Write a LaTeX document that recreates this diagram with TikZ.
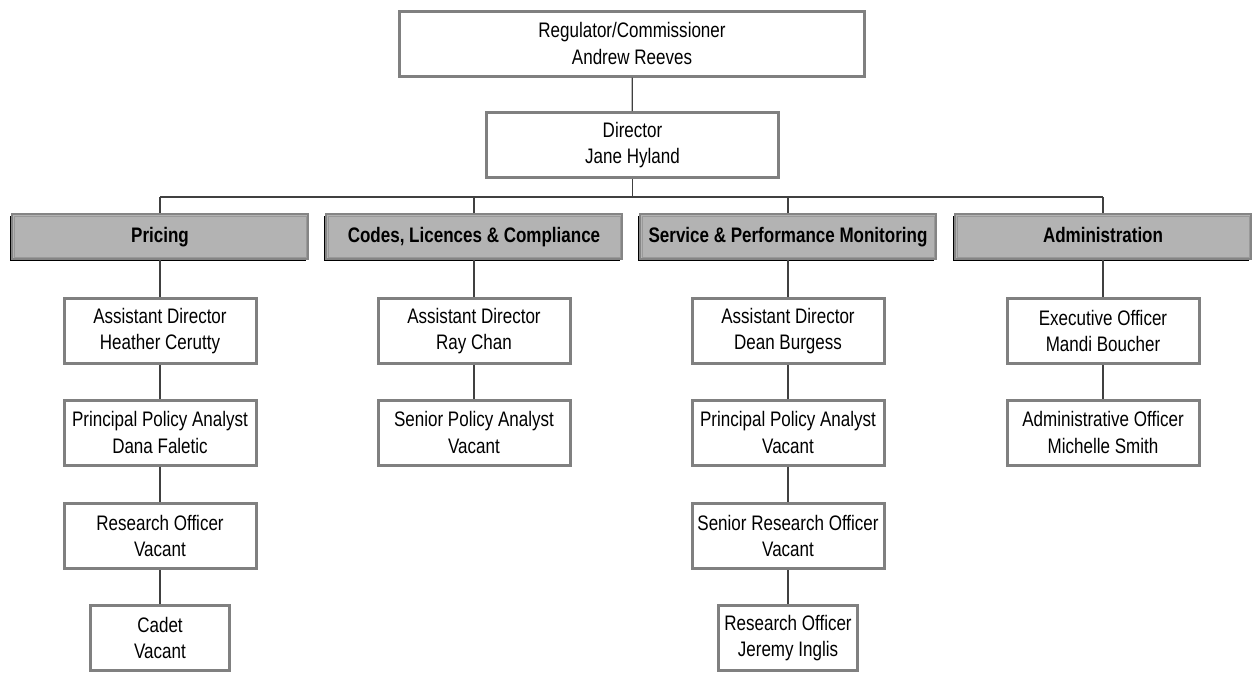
\documentclass[tikz,border=0pt]{standalone}
\usepackage{fontspec}
\setmainfont{Liberation Sans}
\newfontfamily\orgfont[FakeStretch=0.81]{Liberation Sans}
\usepackage{tikz}
\usetikzlibrary{positioning,shadows}

\definecolor{boxgray}{HTML}{808080}
\definecolor{headfill}{HTML}{B3B3B3}
\definecolor{headline}{HTML}{858585}
\definecolor{innerline}{HTML}{999999}
\definecolor{linkgray}{HTML}{404040}

\tikzset{
  person/.style={draw=boxgray, line width=3pt, fill=white, minimum width=192pt, minimum height=65pt,
    inner sep=0pt, align=center, font=\orgfont\fontsize{21}{26.7}\selectfont},
  narrow/.style={person, minimum width=139pt},
  unit/.style={draw=headline, line width=2pt, fill=headfill, minimum width=296pt, minimum height=45pt,
    inner sep=0pt, text height=15pt, text depth=4pt, font=\orgfont\bfseries\fontsize{21}{25}\selectfont,
    drop shadow={shadow xshift=-2pt, shadow yshift=-2pt, fill=black, opacity=1}},
  inset/.style={draw=innerline, line width=0.8pt},
  link/.style={draw=linkgray, line width=1.2pt}
}

\begin{document}
\begin{tikzpicture}[x=1pt, y=-1pt]
    \useasboundingbox (0,0) rectangle (1252,673);

    % Top of the chart
    \node[person, minimum width=465pt] (reg) at (632,43.5) {Regulator/Commissioner\\Andrew Reeves};
    \node[person, minimum width=292pt] (dir) at (632.5,145) {Director\\Jane Hyland};

    % Branch headers
    \foreach \i/\x/\t in {1/160/Pricing, 2/474/{Codes, Licences \& Compliance}, 3/788/{Service \& Performance Monitoring}, 4/1103/Administration} {
      \node[unit] (h\i) at (\x,236.5) {\t};
      \draw[inset] ([shift={(3,3)}]h\i.north west) rectangle ([shift={(-3,-3)}]h\i.south east);
    }

    % Staff in each branch
    \foreach \n/\x/\y/\s/\t in {
        p11/160/331/person/{Assistant Director\\Heather Cerutty},
        p12/160/432.5/person/{Principal Policy Analyst\\Dana Faletic},
        p13/160/536/person/{Research Officer\\Vacant},
        p14/160/638/narrow/{Cadet\\Vacant},
        p21/474/331/person/{Assistant Director\\Ray Chan},
        p22/474/432.5/person/{Senior Policy Analyst\\Vacant},
        p31/788/331/person/{Assistant Director\\Dean Burgess},
        p32/788/432.5/person/{Principal Policy Analyst\\Vacant},
        p33/788/536/person/{Senior Research Officer\\Vacant},
        p34/788/638/narrow/{Research Officer\\Jeremy Inglis},
        p41/1103/331/person/{Executive Officer\\Mandi Boucher},
        p42/1103/432.5/person/{Administrative Officer\\Michelle Smith}} {
      \node[\s] (\n) at (\x,\y) {\t};
    }

    % Connectors
    \coordinate (busL) at (160,197);
    \coordinate (busR) at (1103,197);
    \draw[link] (busL) -- (busR);
    \draw[link] (reg) -- (dir);
    \draw[link] (dir) -- (dir |- busL);
    \foreach \i in {1,...,4} {
      \draw[link] (h\i) -- (h\i |- busL);
    }
    \foreach \a/\b in {h1/p11, p11/p12, p12/p13, p13/p14, h2/p21, p21/p22, h3/p31, p31/p32, p32/p33, p33/p34, h4/p41, p41/p42} {
      \draw[link] (\a) -- (\b);
    }
\end{tikzpicture}
\end{document}
